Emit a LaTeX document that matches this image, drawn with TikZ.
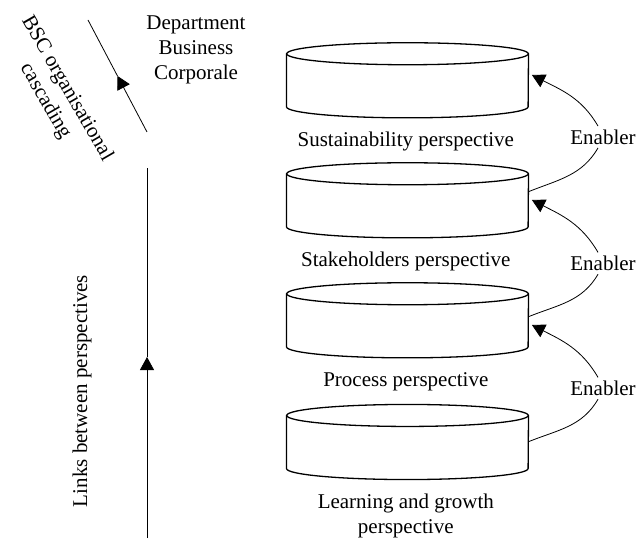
\documentclass[tikz,border=0pt]{standalone}
\usepackage{fontspec}
\setmainfont{Liberation Serif}
\usetikzlibrary{arrows.meta}
\tikzset{
  lbl/.style={font=\fontsize{21}{25}\selectfont, align=center},
  diskbox/.style={minimum width=241.6pt, minimum height=52.7pt, inner sep=0pt},
  disk/.style={line width=1.3pt},
  link/.style={line width=0.8pt},
  headarrow/.style={-{Triangle[length=13pt,width=14pt]}}
}
\begin{document}
\begin{tikzpicture}[x=1pt,y=1pt]
  \useasboundingbox (0,0) rectangle (636,538);
  % the four perspectives
  \node[diskbox] (d1) at (407.5,457.7) {};
  \node[diskbox] (d2) at (407.5,337.7) {};
  \node[diskbox] (d3) at (407.5,217.7) {};
  \node[diskbox] (d4) at (407.5,96) {};
  \foreach \d in {d1,d2,d3,d4} {
    \draw[disk] (\d.north west) -- (\d.south west)
      arc[start angle=180,end angle=360,x radius=120.8pt,y radius=11pt] -- (\d.north east);
    \draw[disk] (\d.north) ellipse [x radius=120.8pt,y radius=11pt];
  }
  \node[lbl] (t1) at (405.8,396.3) {Sustainability perspective};
  \node[lbl] (t2) at (405.8,276.3) {Stakeholders perspective};
  \node[lbl] (t3) at (405.8,156.3) {Process perspective};
  \node[lbl] (t4) at (405.8,22.5) {Learning and growth\\perspective};
  % enablers
  \node[lbl] (e1) at (603,401) {Enabler};
  \node[lbl] (e2) at (603,274.7) {Enabler};
  \node[lbl] (e3) at (603,149.7) {Enabler};
  \draw[link] ([yshift=8.6pt]d2.east) to[out=22,in=-120] ([xshift=-5pt]e1.south);
  \draw[link,headarrow] ([xshift=-5pt]e1.north) to[out=120,in=-27] ([xshift=3.4pt,yshift=5.3pt]d1.east);
  \draw[link] ([yshift=3.6pt]d3.east) to[out=22,in=-120] ([xshift=-5pt]e2.south);
  \draw[link,headarrow] ([xshift=-5pt]e2.north) to[out=120,in=-27] ([xshift=3.4pt,yshift=0.3pt]d2.east);
  \draw[link] ([yshift=0.3pt]d4.east) to[out=22,in=-120] ([xshift=-5pt]e3.south);
  \draw[link,headarrow] ([xshift=-5pt]e3.north) to[out=120,in=-27] ([xshift=3.4pt,yshift=-4.7pt]d3.east);
  % left side
  \node[lbl] (dept) at (196,488) {Department\\Business\\Corporale};
  \coordinate (bscTop) at (88,518);
  \coordinate (bscMid) at (117.5,462);
  \coordinate (bscBot) at (147,406);
  \draw[link] (bscMid) -- (bscTop);
  \draw[link,headarrow] (bscBot) -- (bscMid);
  \node[lbl,rotate=-60] (bsc) at (56,443) {BSC organisational\\cascading};
  \coordinate (linkTop) at (147,370);
  \coordinate (linkMid) at (147,181);
  \coordinate (linkBot) at (147,0);
  \draw[link] (linkMid) -- (linkTop);
  \draw[link,headarrow] (linkBot) -- (linkMid);
  \node[lbl,rotate=90] (links) at (82,147) {Links between perspectives};
\end{tikzpicture}
\end{document}
